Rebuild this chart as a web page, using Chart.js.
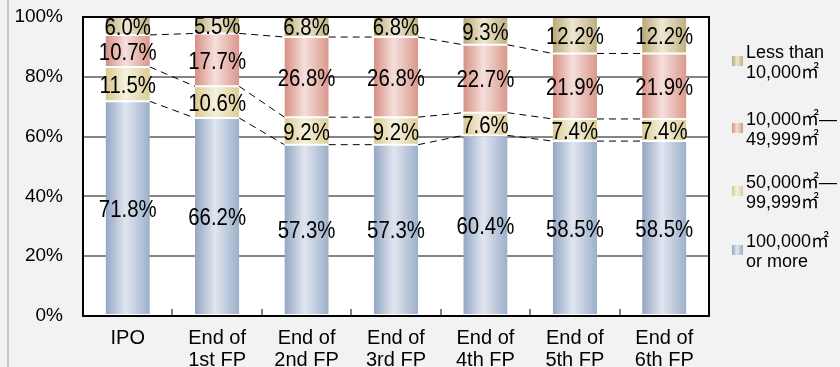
<!DOCTYPE html>
<html>
<head>
<meta charset="utf-8">
<script src="https://cdn.jsdelivr.net/npm/chart.js@4.4.1/dist/chart.umd.min.js"></script>
<style>
  html, body { margin: 0; padding: 0; background: #f2f2f2; }
  #wrap { width: 840px; height: 367px; position: relative; }
</style>
</head>
<body>
<div id="wrap"><canvas id="c" width="840" height="367"></canvas></div>
<script>
// Portfolio breakdown by total floor area, share of each size band (%)
const categories = [["IPO"], ["End of", "1st FP"], ["End of", "2nd FP"], ["End of", "3rd FP"],
                    ["End of", "4th FP"], ["End of", "5th FP"], ["End of", "6th FP"]];
const share100k    = [71.8, 66.2, 57.3, 57.3, 60.4, 58.5, 58.5];
const share50k     = [11.5, 10.6,  9.2,  9.2,  7.6,  7.4,  7.4];
const share10k     = [10.7, 17.7, 26.8, 26.8, 22.7, 21.9, 21.9];
const shareUnder10k = [ 6.0,  5.5,  6.8,  6.8,  9.3, 12.2, 12.2];
const yTicks = [0, 20, 40, 60, 80, 100];

const legend100k = ["100,000㎡", "or more"];
const legend50k = ["50,000㎡—", "99,999㎡"];
const legend10k = ["10,000㎡—", "49,999㎡"];
const legendUnder10k = ["Less than", "10,000㎡"];

// edge / centre / edge colours for the cylinder-like shading
const shades = {
  blue:  ["#93a6c4", "#e0e6ef", "#9cafca"],
  cream: ["#d8c98f", "#f5f1de", "#dccd96"],
  pink:  ["#d78f83", "#f5dfdb", "#da978b"],
  tan:   ["#b8a874", "#ede8d3", "#bfb07f"]
};

const BAR_PCT = 0.495;

function shaded(ctx, x0, x1, s) {
  const g = ctx.createLinearGradient(x0, 0, x1, 0);
  g.addColorStop(0, s[0]);
  g.addColorStop(0.45, s[1]);
  g.addColorStop(1, s[2]);
  return g;
}

function barFill(s) {
  return (context) => {
    const chart = context.chart;
    const xs = chart.scales.x;
    if (!xs || context.dataIndex === undefined) return s[1];
    const cx = xs.getPixelForValue(context.dataIndex);
    const hw = (xs.width / categories.length) * BAR_PCT / 2;
    if (!isFinite(cx) || !isFinite(hw) || hw <= 0) return s[1];
    return shaded(chart.ctx, cx - hw, cx + hw, s);
  };
}

const series = [
  { label: legend100k, data: share100k, shade: shades.blue },
  { label: legend50k, data: share50k, shade: shades.cream },
  { label: legend10k, data: share10k, shade: shades.pink },
  { label: legendUnder10k, data: shareUnder10k, shade: shades.tan }
];

const frame = {
  id: 'frame',
  beforeDraw(chart) {
    const { ctx, chartArea: a } = chart;
    ctx.save();
    ctx.fillStyle = '#f2f2f2';
    ctx.fillRect(0, 0, chart.width, chart.height);
    ctx.fillStyle = '#c6c6c6';
    ctx.fillRect(7, 0, 2, chart.height);
    ctx.fillStyle = '#ffffff';
    ctx.fillRect(a.left, a.top, a.right - a.left, a.bottom - a.top);
    ctx.restore();
  },
  afterDatasetsDraw(chart) {
    const { ctx, chartArea: a, scales: { x, y } } = chart;
    ctx.save();
    // dashed connectors between segment boundaries of neighbouring bars
    const n = categories.length;
    const hw = (x.width / n) * BAR_PCT / 2;
    const cum = [];
    for (let i = 0; i < n; i++) {
      let s = 0; const row = [];
      for (let k = 0; k < 3; k++) { s += series[k].data[i]; row.push(s); }
      cum.push(row);
    }
    ctx.strokeStyle = '#000';
    ctx.lineWidth = 1;
    ctx.setLineDash([7, 5]);
    for (let i = 0; i < n - 1; i++) {
      for (let k = 0; k < 3; k++) {
        ctx.beginPath();
        ctx.moveTo(x.getPixelForValue(i) + hw, y.getPixelForValue(cum[i][k]));
        ctx.lineTo(x.getPixelForValue(i + 1) - hw, y.getPixelForValue(cum[i + 1][k]));
        ctx.stroke();
      }
    }
    ctx.setLineDash([]);
    // small category separators rising from the axis
    ctx.strokeStyle = '#808080';
    ctx.lineWidth = 2;
    for (let i = 1; i < n; i++) {
      const px = Math.round((x.getPixelForValue(i - 1) + x.getPixelForValue(i)) / 2);
      ctx.beginPath();
      ctx.moveTo(px, a.bottom);
      ctx.lineTo(px, a.bottom - 7);
      ctx.stroke();
    }
    // plot frame
    ctx.strokeStyle = '#000';
    ctx.lineWidth = 2;
    ctx.strokeRect(a.left, a.top, a.right - a.left, a.bottom - a.top);

    // value labels, set in a slightly condensed face
    ctx.fillStyle = '#000';
    ctx.font = '24px "Liberation Sans", sans-serif';
    ctx.textAlign = 'center';
    ctx.textBaseline = 'middle';
    chart.data.datasets.forEach((ds, di) => {
      const meta = chart.getDatasetMeta(di);
      meta.data.forEach((bar, i) => {
        const v = ds.data[i];
        const yc = (bar.y + bar.base) / 2 + 2;
        ctx.save();
        ctx.translate(bar.x, yc);
        ctx.scale(0.85, 1);
        ctx.fillText(v.toFixed(1) + '%', 0, 0);
        ctx.restore();
      });
    });

    // legend, top entry = top segment
    ctx.font = '18px "Liberation Sans", "Noto Sans CJK JP", sans-serif';
    ctx.textAlign = 'left';
    const tops = [53, 120, 183, 242];
    const order = [3, 2, 1, 0];
    order.forEach((k, j) => {
      const yl = tops[j];
      const sx = 732, sy = yl + 3;
      ctx.fillStyle = shaded(ctx, sx, sx + 11, series[k].shade);
      ctx.fillRect(sx, sy, 11, 10);
      ctx.fillStyle = '#000';
      series[k].label.forEach((t, li) => ctx.fillText(t, 746, yl + li * 20));
    });
    ctx.restore();
  }
};

new Chart(document.getElementById('c'), {
  type: 'bar',
  data: {
    labels: categories,
    datasets: series.map(s => ({
      label: s.label.join(' '),
      data: s.data,
      backgroundColor: barFill(s.shade),
      borderColor: '#ffffff',
      borderWidth: { top: 1, bottom: 1, left: 0, right: 0 },
      borderSkipped: false,
      categoryPercentage: 1,
      barPercentage: BAR_PCT
    }))
  },
  options: {
    responsive: false,
    animation: false,
    devicePixelRatio: 1,
    layout: { padding: { left: 0, right: 131, top: 17, bottom: 0 } },
    plugins: { legend: { display: false }, tooltip: { enabled: false } },
    scales: {
      x: {
        stacked: true,
        grid: { display: false, drawTicks: false },
        border: { display: false },
        ticks: {
          color: '#000',
          padding: 11,
          maxRotation: 0,
          autoSkip: false,
          font: { family: '"Liberation Sans", sans-serif', size: 20, lineHeight: 1.1 }
        },
        afterFit(scale) {
          scale.height = 51;
          scale.paddingLeft = 0; scale.paddingRight = 0;
        }
      },
      y: {
        stacked: true,
        min: 0,
        max: 100,
        afterBuildTicks(scale) { scale.ticks = yTicks.map(v => ({ value: v })); },
        grid: {
          drawTicks: false,
          lineWidth: 2,
          color: (c) => (c.tick && (c.tick.value === 0 || c.tick.value === 100)) ? 'rgba(0,0,0,0)' : '#858585'
        },
        border: { display: false },
        ticks: {
          color: '#000',
          padding: 20,
          font: { family: '"Liberation Sans", sans-serif', size: 19 },
          callback: (v) => v + '%'
        },
        afterFit(scale) {
          scale.width = 83;
          scale.paddingTop = 0; scale.paddingBottom = 0;
        }
      }
    }
  },
  plugins: [frame]
});
</script>
</body>
</html>
